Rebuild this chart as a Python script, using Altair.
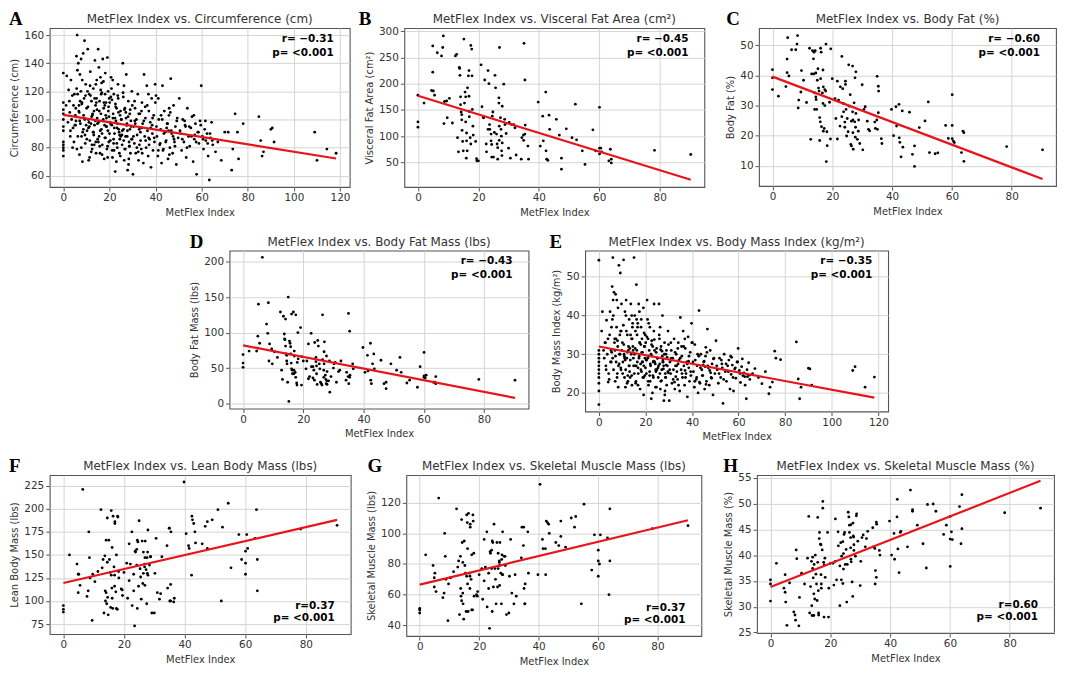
import altair as alt
import pandas as pd

# ---------------- data ----------------
# Panels A and E (full cohort): MetFlex index and outcomes
metflex_all = [
    0, 0, 0, 0, 0, 0, 0, 0, 0, 0, 0, 0,
    1.2, 1.5, 2.0, 2.3, 2.8, 3.0, 3.3, 3.6, 3.9, 4.2, 4.4, 4.6, 4.8, 5.0, 5.2, 5.4, 3.1, 2.6, 4.0, 5.5,
    5.7, 6.0, 6.2, 6.5, 6.7, 7.0, 7.2, 7.4, 7.6, 7.9, 8.1, 8.3, 8.6, 8.8, 9.0, 9.2, 9.5, 9.7, 9.9, 6.8, 7.7, 8.4, 9.3, 5.9,
    10.1, 10.3, 10.6, 10.8, 11.0, 11.2, 11.5, 11.7, 12.0, 12.2, 12.5, 12.7, 13.0, 13.2, 13.5, 13.7, 14.0, 14.2, 14.5, 14.7,
    14.9, 10.9, 11.8, 12.4, 13.3, 13.9, 14.4, 11.4, 12.9, 14.1,
    15.1, 15.3, 15.5, 15.7, 15.9, 16.1, 16.3, 16.5, 16.7, 16.9, 17.1, 17.3, 17.5, 17.7, 17.9, 18.1, 18.3, 18.5, 18.7, 18.9,
    19.1, 19.3, 19.5, 19.7, 19.9, 15.4, 16.2, 16.8, 17.4, 18.0, 18.6, 19.2, 19.8, 15.8,
    20.1, 20.4, 20.7, 21.0, 21.3, 21.6, 21.9, 22.2, 22.5, 22.8, 23.1, 23.4, 23.7, 24.0, 24.3, 24.6, 24.9, 20.5, 21.1, 21.8,
    22.4, 23.0, 23.6, 24.2, 24.8, 20.9, 22.0, 23.3, 24.5, 22.7,
    25.2, 25.5, 25.8, 26.1, 26.4, 26.7, 27.0, 27.3, 27.6, 27.9, 28.2, 28.5, 28.8, 29.1, 29.4, 29.7, 25.4, 26.0, 26.6, 27.2,
    27.8, 28.4, 29.0, 29.6, 26.3, 27.5, 28.7, 29.9,
    30.2, 30.5, 30.8, 31.1, 31.4, 31.7, 32.0, 32.3, 32.6, 32.9, 33.2, 33.5, 33.8, 34.1, 34.4, 34.7, 35.0, 35.3, 35.6, 35.9,
    36.2, 36.5, 36.8, 37.1, 37.4, 37.7, 38.0, 38.3, 38.6, 38.9, 39.2, 39.5, 39.8, 31.0, 32.5, 34.0, 35.5, 37.0, 38.5, 33.0,
    40.2, 40.6, 41.0, 41.4, 41.8, 42.2, 42.6, 43.0, 43.4, 43.8, 44.2, 44.6, 45.0, 45.4, 45.8, 46.2, 46.6, 47.0, 47.4, 47.8,
    48.2, 48.6, 49.0, 49.4, 49.8, 41.2, 43.2, 44.8, 46.4, 48.0, 42.0, 45.6,
    50.3, 50.8, 51.3, 51.8, 52.3, 52.8, 53.3, 53.8, 54.3, 54.8, 55.3, 55.8, 56.3, 56.8, 57.3, 57.8, 58.3, 58.8, 59.3, 59.8,
    60.3, 60.8, 61.3, 61.8, 62.3, 62.8, 63.3, 63.8, 64.3, 64.8, 53.0, 57.0,
    66.0, 67.0, 68.5, 70.0, 71.5, 73.0, 73.5, 74.5, 75.5, 76.0, 78.0, 84.8, 85.6, 86.2, 86.8, 90.0, 90.6, 91.4, 109.0, 110.0,
    114.3, 118.3,
    5.3, 5.8, 6.3, 6.9, 7.3, 7.8, 8.2, 8.7, 9.1, 9.6, 10.2, 10.7, 11.1, 11.6, 12.1, 12.6, 13.1, 13.6, 14.1, 14.6,
    6.1, 7.1, 8.0, 9.4, 10.5, 11.3, 12.3, 13.4, 14.3, 14.8,
    15.2, 15.6, 16.0, 16.4, 16.8, 17.2, 17.6, 18.0, 18.4, 18.8, 19.2, 19.6, 20.0, 20.3, 20.6, 21.2, 21.5, 21.8, 22.1, 22.6,
    23.2, 23.5, 23.9, 24.4, 24.7, 25.1, 25.6, 26.2, 26.5, 26.9, 27.4, 27.7, 28.1, 28.6, 28.9, 29.3, 29.8, 16.6, 18.2, 19.4,
    21.4, 23.8, 25.9, 27.1, 28.3,
    30.4, 31.2, 31.9, 32.7, 33.4, 34.2, 34.9, 35.7, 36.4, 37.2, 37.9, 38.7, 39.4, 40.4, 41.2, 42.4, 43.6, 44.4, 45.2, 46.0,
    46.8, 47.6, 48.4, 49.2, 30.9, 33.9, 36.9, 39.9, 42.9, 45.9,
    50.6, 51.6, 52.6, 53.6, 54.6, 55.6, 56.6, 57.6, 58.6, 59.6, 60.6, 61.6, 62.6, 63.6, 64.6,
]
circumference = [
    74, 78, 80, 82, 84, 92, 95, 100, 104, 107, 112, 133,
    110, 131, 98, 121, 105, 88, 128, 100, 117, 94, 110, 84, 118, 96, 103, 108, 92, 113, 80, 99,
    145, 160, 118, 140, 106, 75, 132, 97, 120, 88, 112, 70, 147, 103, 115, 156, 83, 125, 96, 110, 143, 91, 100, 79,
    108, 92, 150, 100, 71, 118, 85, 134, 97, 113, 79, 104, 122, 89, 96, 142, 110, 76, 128, 101,
    86, 94, 117, 82, 106, 99, 115, 73, 91, 125,
    150, 98, 88, 113, 76, 130, 104, 93, 119, 82, 143, 100, 108, 72, 96, 118, 87, 112, 101, 79,
    144, 92, 106, 84, 115, 137, 121, 90, 127, 110, 95, 73, 102, 81,
    112, 85, 130, 96, 73, 104, 118, 90, 63, 99, 108, 80, 125, 93, 76, 103, 88, 97, 114, 83,
    101, 70, 117, 91, 106, 122, 78, 94, 86, 109,
    100, 82, 140, 93, 71, 108, 88, 132, 97, 64, 113, 84, 104, 76, 95, 120, 89, 116, 79, 101,
    92, 72, 107, 86, 124, 96, 81, 110,
    61, 95, 83, 108, 76, 100, 89, 118, 71, 93, 104, 85, 79, 112, 97, 69, 132, 88, 101, 80,
    124, 92, 74, 106, 86, 98, 66, 115, 90, 78, 103, 84, 125, 99, 77, 94, 109, 87, 96, 82,
    117, 88, 74, 100, 82, 93, 69, 124, 79, 106, 91, 85, 97, 72, 103, 80, 129, 90, 76, 110,
    84, 95, 68, 101, 87, 115, 78, 94, 105, 86, 83, 92,
    115, 90, 78, 100, 84, 96, 73, 108, 88, 81, 94, 102, 70, 86, 97, 61, 91, 83, 99, 124,
    88, 79, 93, 85, 90, 74, 57, 87, 98, 82, 95, 89,
    77, 84, 71, 91, 91, 64, 79, 104, 91, 72, 97, 102, 85, 74, 77, 93, 94, 84, 91, 71,
    79, 76,
    96, 122, 88, 105, 113, 80, 128, 93, 101, 117, 86, 109, 98, 124, 77, 103, 91, 115, 84, 107,
    135, 99, 111, 89, 120, 95, 102, 82, 112, 97,
    84, 106, 92, 118, 75, 99, 112, 87, 103, 95, 81, 109, 90, 98, 116, 78, 101, 86, 94, 111,
    83, 97, 105, 89, 74, 100, 92, 85, 107, 79, 96, 88, 102, 81, 93, 99, 86, 126, 133, 120,
    128, 115, 119, 105, 68,
    88, 97, 80, 104, 91, 76, 99, 85, 110, 82, 94, 101, 87, 95, 78, 103, 90, 84, 97, 75,
    92, 88, 81, 99, 113, 106, 118, 112, 100, 108,
    92, 86, 99, 80, 95, 88, 103, 84, 91, 96, 86, 99, 83, 90, 85,
]
bmi = [
    17, 20.5, 22.5, 24, 25, 26, 27, 28, 29, 30, 31, 54.3,
    36, 41, 31, 29, 33, 27, 38.8, 30, 34, 25, 23.5, 35, 41, 28, 31, 37, 26, 33, 22.8, 30.5,
    47.5, 55, 40, 46, 33, 23, 45.5, 28, 37, 25, 32, 21.5, 53, 30, 35, 51, 26, 43, 31, 34, 44, 27, 36, 29,
    33, 28, 54.4, 30, 24, 41, 26, 44, 29, 35, 23, 32, 39, 25.5, 28.5, 43, 34, 22, 38, 31,
    27, 29.5, 36, 24.5, 31.5, 30, 37, 21.5, 27, 40,
    55, 30, 27, 36, 23, 48, 31, 28, 38, 25, 43, 29.5, 33, 21, 27.5, 37, 25.5, 34, 30.5, 24,
    42, 27, 32, 24.5, 35, 40, 39, 26.5, 41, 32.5, 28, 19.5, 29, 22.5,
    33, 25, 44, 29, 22, 31, 37, 27, 18.5, 29.5, 32, 24, 43, 28, 21.5, 30.5, 26, 28.5, 34, 24.5,
    30, 20, 36, 27.5, 31.5, 39, 23, 28, 25.5, 33.5,
    29, 24, 43, 27.5, 21, 32, 26, 40, 28, 18, 33, 25, 30, 22, 27, 36, 26.5, 34, 23, 29.5,
    27, 20.5, 31, 25.5, 37, 28.5, 24, 32.5,
    18, 28, 25, 31, 22.5, 29, 26, 34, 21, 27, 30, 25.5, 23.5, 33, 28.5, 20.5, 39.5, 26, 29.5, 24,
    36, 27, 22, 31.5, 25, 28, 19, 34.5, 26.5, 23, 30.5, 24.5, 38, 29, 22.8, 27.5, 32, 25.8, 28.2, 24.2,
    33, 25.5, 21.5, 28.5, 23.5, 27, 20, 41.3, 22.5, 30, 26, 24.5, 28, 21, 29.5, 23, 36.5, 26.5, 22, 31,
    24, 27.5, 19.5, 29, 25, 32.5, 22.8, 27.2, 30.5, 25.2, 24, 26.8,
    33.5, 26, 22.5, 29, 24, 27.5, 17.3, 30, 25.5, 23, 27, 28.5, 21, 24.8, 27.2, 20.5, 26.2, 23.8, 28, 31.5,
    25.8, 22.7, 26.8, 24.5, 25.2, 22, 18.5, 24.2, 27.8, 23.5, 26.5, 29.2,
    25, 26.3, 24, 22.4, 25.5, 19.8, 21.5, 22.8, 30.8, 29, 28.6, 33.2, 23.6, 18.5, 21.5, 26.4, 26.2, 22, 25.8, 26.8,
    21.5, 24.1,
    28, 39, 26, 31, 34, 24, 42, 27.5, 30, 36, 25, 32.5, 29, 40, 22.5, 31, 27, 35, 24.5, 32,
    44, 29.5, 33.5, 26.5, 37.5, 28.5, 30.5, 24, 34, 29,
    25, 31.5, 27, 35, 22, 29, 33, 26, 30.5, 28, 24, 32, 26.5, 28.5, 34.5, 23, 29.5, 25.5, 27.5, 32.5,
    24.5, 28.2, 31, 26, 21.5, 29, 27, 25, 31.2, 23.2, 28, 26.2, 30, 24, 27.2, 29.2, 25.2, 37, 39, 35.5,
    38, 33.8, 35, 30.8, 19.5,
    26, 28.5, 23.5, 30.5, 27, 22, 29, 25, 32, 24, 27.5, 29.5, 25.5, 28, 23, 30, 26.5, 24.5, 28.2, 22.2,
    27, 25.8, 23.8, 28.8, 33, 31.5, 34, 33, 29.5, 31.8,
    27, 25, 28.5, 23.5, 27.5, 25.5, 29.5, 24, 26.5, 28, 25, 28.8, 24.2, 26, 24.6,
]

# Panels B, C, D, F, G, H (body-composition subgroup)
metflex_sub = [
    0, 0, 0, 2.0, 4.5, 4.9, 4.9, 5.1, 5.5, 6.4,
    7.8, 8.2, 8.4, 8.6, 8.8, 9.5, 9.7, 10.4, 11.4, 12.4,
    12.8, 13.1, 13.4, 13.7, 13.8, 13.9, 14.1, 14.1, 14.3, 14.5,
    14.5, 14.6, 14.8, 15.0, 15.2, 15.4, 15.6, 15.8, 15.8, 16.0,
    16.1, 16.1, 16.3, 16.4, 16.7, 16.9, 16.9, 17.0, 17.0, 17.3,
    17.5, 17.5, 17.8, 17.9, 18.0, 18.2, 18.3, 19.1, 19.4, 19.5,
    20.0, 20.9, 21.2, 21.7, 21.7, 22.1, 22.6, 22.7, 23.2, 23.2,
    23.5, 23.7, 23.8, 24.2, 24.2, 24.4, 24.4, 24.6, 24.8, 25.0,
    25.3, 25.5, 25.7, 26.0, 26.2, 26.4, 26.4, 26.8, 26.8, 26.9,
    26.9, 27.0, 27.3, 27.5, 27.6, 27.7, 27.8, 27.9, 27.9, 28.4,
    28.7, 28.8, 29.2, 30.0, 30.2, 30.6, 31.0, 31.7, 32.1, 32.5,
    34.2, 34.4, 34.9, 35.0, 35.1, 35.4, 35.4, 35.5, 36.4, 36.6,
    39.8, 40.5, 41.3, 41.5, 42.3, 42.4, 42.6, 43.0, 43.4, 43.6,
    45.8, 46.8, 47.5, 47.5, 49.1, 51.0, 52.1, 52.5, 54.4, 55.3,
    57.9, 58.8, 60.1, 60.1, 60.1, 60.5, 60.8, 63.2, 63.7, 64.0,
    64.0, 78.3, 90.3,
]
visceral_fat = [
    178, 127, 117, 163, 187, 272, 222, 186, 178, 259,
    253, 269, 291, 124, 166, 167, 135, 172, 125,
    253, 256, 97, 70, 231, 229, 216, 175, 160, 146, 141, 131, 111, 90,
    72, 285, 163, 184, 175, 127, 58, 106, 91, 72, 192, 215, 225, 176, 147, 137, 97, 85, 273, 266, 215, 151, 119, 102,
    90, 57, 53, 53, 236, 156, 136, 135, 207,
    85, 70, 113, 225, 200, 122, 113, 104, 91, 84, 60, 138, 146, 60, 107, 216, 192,
    104, 85, 78, 56, 173, 163, 119, 92, 269, 135, 113, 100, 72, 63, 157, 87, 199, 132, 122, 105, 77,
    126, 58, 122, 122, 116, 64, 56, 97, 102, 92, 277, 207, 104, 121, 81, 56,
    165, 81, 138, 91, 184, 72, 56, 54, 140, 113, 132, 102, 58, 37, 114, 97, 161, 93, 72, 46,
    112, 72, 77, 66, 155, 77, 70, 53, 75, 49, 56, 73, 65,
]
body_fat_pct = [
    41.9, 39.2, 35.3, 33.1, 36.3, 45.4, 40.9, 52.5, 39.8, 48.5,
    48.5, 50.4, 53.2, 29.2, 31.8, 34.5, 41.6, 38.4, 31.0, 49.0,
    18.8, 40.5, 48.2, 45.5, 40.5, 47.7, 34.2, 28.7, 48.2, 40.8,
    32.9, 32.0, 28.7, 38.4, 42.2, 35.8, 34.8, 26.0, 18.4, 24.6,
    49.0, 38.9, 47.7, 23.0, 34.2, 30.7, 41.8, 36.2, 21.5, 22.4,
    30.0, 35.3, 34.8, 50.4, 11.4, 21.3, 16.7, 31.1, 18.9, 48.8,
    38.9, 32.3, 25.7, 38.1, 18.9, 31.8, 23.2, 36.2, 46.3, 26.3,
    35.6, 30.7, 27.9, 24.5, 22.8, 38.1, 37.0, 28.7, 19.9, 25.7,
    21.3, 43.5, 29.8, 33.6, 17.1, 24.8, 16.6, 43.1, 27.9, 25.2,
    21.0, 15.5, 30.9, 24.6, 39.2, 19.5, 22.8, 27.4, 41.2, 18.8,
    21.5, 25.2, 17.4, 36.9, 15.3, 28.7, 29.6, 24.8, 22.1, 21.6,
    24.5, 22.4, 25.2, 39.7, 22.1, 36.4, 27.6, 34.8, 19.0, 17.4,
    28.7, 20.0, 29.6, 23.2, 30.4, 19.3, 17.8, 13.0, 28.2, 16.2,
    27.8, 13.8, 16.6, 9.8, 22.7, 24.9, 31.2, 14.4, 14.0, 14.3,
    23.4, 19.1, 19.0, 23.4, 33.6, 18.2, 17.7, 14.4, 21.5, 21.0,
    11.5, 16.4, 15.3,
]
body_fat_mass = [
    69, 57, 51, 74, 74, 78, 95, 140, 85, 206,
    112, 99, 142, 60, 84, 77, 56, 73, 65,
    129, 47, 34, 123, 98, 91, 90, 119, 81, 70, 68, 60, 56, 30,
    150, 3, 88, 85, 80, 70, 57, 49, 126, 47, 42, 129, 42, 47, 74, 67, 44, 37, 125, 29, 26, 58, 100, 63,
    107, 26, 66, 60, 49, 60, 35, 84, 38,
    99, 52, 36, 52, 47, 33, 86, 59, 65, 53, 42, 27, 89, 81, 56, 49, 30,
    28, 26, 125, 62, 47, 37, 73, 56, 87, 40, 34, 28, 67, 32, 45, 27, 32, 60, 16, 38, 50,
    56, 58, 30, 45, 47, 60, 33, 44, 38, 127, 28, 102, 37, 40, 56, 49,
    79, 44, 68, 46, 85, 33, 28, 56, 70, 49, 61, 28, 21, 30, 56, 47, 65, 44, 29, 33,
    23, 52, 72, 39, 37, 36, 40, 30, 30, 38, 28, 34, 33,
]
lean_mass = [
    95, 88, 91, 150, 140, 109, 129, 129, 117, 221,
    105, 111, 175, 147, 125, 79, 129, 121, 132,
    199, 136, 145, 87, 149, 111, 100, 109, 166, 97, 190, 142, 104, 85,
    166, 145, 131, 93, 128, 198, 114, 158, 103, 92, 192, 137, 116, 128, 184, 186, 110, 150, 92, 91, 192, 191, 132, 125,
    113, 112, 106, 131, 141, 103, 162, 122, 140,
    175, 95, 129, 111, 73, 154, 153, 156, 139, 92, 166, 164, 116, 187, 135, 126, 102,
    165, 119, 153, 130, 140, 137, 117, 147, 165, 134, 97, 147, 130, 153, 177, 128, 139, 148, 148, 87, 87,
    130, 168, 109, 102, 108, 148, 160, 114, 179, 179, 100, 100, 118, 175, 99, 103,
    229, 173, 160, 157, 128, 192, 188, 184, 175, 163, 162, 181, 186, 157, 188, 199, 100, 180, 206, 136,
    172, 145, 141, 154, 129, 172, 157, 168, 199, 111, 145, 178, 182,
]
smm_lbs = [
    51, 48, 50, 86, 79, 71, 65, 74, 62, 123,
    58, 61, 100, 85, 70, 43, 67, 71, 75,
    116, 78, 82, 47, 85, 64, 59, 56, 109, 94, 81, 61, 54, 44,
    95, 79, 74, 49, 72, 112, 107, 90, 67, 49, 113, 74, 64, 72, 104, 106, 70, 86, 50, 50, 112, 108, 87, 59,
    60, 59, 62, 73, 77, 57, 96, 69, 78,
    101, 52, 74, 64, 38, 88, 87, 89, 77, 49, 95, 94, 65, 106, 77, 70, 54,
    94, 65, 87, 77, 81, 82, 66, 79, 94, 74, 54, 83, 86, 73, 101, 73, 85, 85, 79, 47, 48,
    72, 96, 61, 54, 73, 59, 84, 104, 92, 104, 64, 54, 54, 67, 101, 74,
    73, 132, 96, 90, 90, 73, 108, 107, 106, 100, 94, 92, 98, 108, 91, 110, 104, 111, 54, 119,
    76, 99, 82, 72, 89, 80, 99, 97, 60, 116, 82, 103, 105,
]
smm_pct = [
    35.2, 34.4, 31.1, 38.4, 33.6, 36.2, 32.8, 30.9, 26.4, 34.6,
    29, 28.4, 27.4, 41, 39.3, 26.3, 31.8, 36.5, 34.4,
    39.4, 47.5, 28.8, 33.9, 38.8, 30.2, 28.3, 39.6, 37.4, 35.6, 32.5, 28.3, 38.2, 31.5,
    40, 36.3, 34.4, 31.2, 47.3, 38.6, 33.1, 28.8, 28.4, 43.2, 44.4, 42.1, 42, 36.2, 34.4, 33.6, 41, 50.4, 49.1, 38.6,
    28, 38.1, 39.4, 35.7,
    44.4, 28, 33.6, 38.4, 38.4, 34.2, 47, 38.8, 35.2,
    44.5, 41.8, 37.9, 30.2, 42.4, 35.2, 39.8, 42.6, 34.5, 37.3, 40.3, 44, 44.4, 38.2, 41.1, 30.9, 38.2,
    48.3, 47.4, 45.8, 44.4, 43.4, 41.4, 39.2, 45.9, 38.7, 34.8, 32, 46.2, 43.7, 43.5, 42, 40.9, 39.8, 47.6, 48, 42.7, 34.1,
    38.8, 43.4, 43.9, 41.6, 43.2, 44.6, 45.3, 41.6, 41.3, 34.4, 37, 35.7, 46.4, 46, 40.9, 40,
    46.6, 40.0, 44.2, 39.2, 47.4, 50.8, 41.2, 36.6, 44.4, 44.6, 41.6, 52.6, 48.8, 48.5, 45.8, 42.2, 37.5, 49.8, 49.9, 48.5,
    44.0, 45.8, 37.8, 43.1, 47.5, 44.5, 43.0, 49.4, 42.2, 51.7, 45.1, 48.2, 49.1,
]

# fitted regression lines (end points)
fit_x_all = [0, 118.3]
fit_circ = [103.3, 72.3]
fit_bmi = [32.0, 18.8]
fit_x_sub = [0, 90.3]
fit_vfa = [177, 17]
fit_bfp = [39.6, 5.6]
fit_bfm = [82, 8]
fit_lbm = [119.5, 188]
fit_smm = [66.5, 108.5]
fit_smmp = [33.8, 54.4]

titles = [
    "MetFlex Index vs. Circumference (cm)",
    "MetFlex Index vs. Visceral Fat Area (cm²)",
    "MetFlex Index vs. Body Fat (%)",
    "MetFlex Index vs. Body Fat Mass (lbs)",
    "MetFlex Index vs. Body Mass Index (kg/m²)",
    "MetFlex Index vs. Lean Body Mass (lbs)",
    "MetFlex Index vs. Skeletal Muscle Mass (lbs)",
    "MetFlex Index vs. Skeletal Muscle Mass (%)",
]
stats_r = ["r= −0.31", "r= −0.45", "r= −0.60", "r= −0.43", "r= −0.35", "r=0.37", "r=0.37", "r=0.60"]
stats_p = ["p= <0.001"] * 8

# ---------------- chart ----------------
FONT = "DejaVu Sans"
TXT = "#333333"


def text_layer(s, xx, yy, **kw):
    return alt.Chart(pd.DataFrame({"t": [s]})).mark_text(**kw).encode(
        x=alt.value(xx), y=alt.value(yy), text="t:N")


def panel(x, y, fx, fy, title, ytitle, xdom, ydom, xticks, yticks, r, p, top,
          letter, ldx, w, h):
    df = pd.DataFrame({"x": x, "y": y})
    fit = pd.DataFrame({"x": fx, "y": fy})
    xenc = alt.X("x:Q", scale=alt.Scale(domain=xdom, nice=False, zero=False),
                 axis=alt.Axis(title="MetFlex Index", values=xticks, tickCount=len(xticks),
                               format="d", labelOverlap=False))
    yenc = alt.Y("y:Q", scale=alt.Scale(domain=ydom, nice=False, zero=False),
                 axis=alt.Axis(title=ytitle, values=yticks, tickCount=len(yticks),
                               format="d", labelOverlap=False))
    pts = alt.Chart(df).mark_circle(size=8, color="black", opacity=1).encode(x=xenc, y=yenc)
    line = alt.Chart(fit).mark_line(color="#e8141c", strokeWidth=2.2).encode(x="x:Q", y="y:Q")
    if top:
        y1, y2 = 11, 25
    else:
        y1, y2 = h - 28, h - 16
    stat_kw = dict(align="right", baseline="middle", font=FONT, fontWeight="bold",
                   fontSize=10.5, color="black")
    ttl = text_layer(title, w / 2, -5, align="center", baseline="alphabetic", font=FONT,
                     fontSize=12, color=TXT)
    lab = text_layer(letter, ldx, -3, align="left", baseline="alphabetic",
                     font="Liberation Serif", fontWeight="bold", fontSize=19, color="black")
    return alt.layer(pts, line, text_layer(r, w - 16, y1, **stat_kw),
                     text_layer(p, w - 16, y2, **stat_kw), ttl, lab).properties(width=w, height=h)


X_ALL = [-5.9, 124.2]
X_SUB = [-4.5, 94.8]
T_ALL = [0, 20, 40, 60, 80, 100, 120]
T_SUB = [0, 20, 40, 60, 80]

A = panel(metflex_all, circumference, fit_x_all, fit_circ, titles[0],
          "Circumference (cm)", X_ALL, [52, 165], T_ALL, [60, 80, 100, 120, 140, 160],
          stats_r[0], stats_p[0], True, "A", -41, 302, 160)
B = panel(metflex_sub, visceral_fat, fit_x_sub, fit_vfa, titles[1],
          "Visceral Fat Area (cm²)", X_SUB, [3, 306], T_SUB, [50, 100, 150, 200, 250, 300],
          stats_r[1], stats_p[1], True, "B", -46, 302, 160)
C = panel(metflex_sub, body_fat_pct, fit_x_sub, fit_bfp, titles[2],
          "Body Fat (%)", X_SUB, [3.3, 55.7], T_SUB, [10, 20, 30, 40, 50],
          stats_r[2], stats_p[2], True, "C", -33, 299, 159)
D = panel(metflex_sub, body_fat_mass, fit_x_sub, fit_bfm, titles[3],
          "Body Fat Mass (lbs)", X_SUB, [-7, 215.5], T_SUB, [0, 50, 100, 150, 200],
          stats_r[3], stats_p[3], True, "D", -40, 301, 159)
E = panel(metflex_all, bmi, fit_x_all, fit_bmi, titles[4],
          "Body Mass Index (kg/m²)", X_ALL, [15.2, 56.8], T_ALL, [20, 30, 40, 50],
          stats_r[4], stats_p[4], True, "E", -36, 305, 162)
F = panel(metflex_sub, lean_mass, fit_x_sub, fit_lbm, titles[5],
          "Lean Body Mass (lbs)", X_SUB, [64.2, 236.5], T_SUB, [75, 100, 125, 150, 175, 200, 225],
          stats_r[5], stats_p[5], False, "F", -41, 303, 160)
G = panel(metflex_sub, smm_lbs, fit_x_sub, fit_smm, titles[6],
          "Skeletal Muscle Mass (lbs)", X_SUB, [33, 138], T_SUB, [40, 60, 80, 100, 120],
          stats_r[6], stats_p[6], False, "G", -39, 297, 162)
H = panel(metflex_sub, smm_pct, fit_x_sub, fit_smmp, titles[7],
          "Skeletal Muscle Mass (%)", X_SUB, [24.9, 55.5], T_SUB, [25, 30, 35, 40, 45, 50, 55],
          stats_r[7], stats_p[7], False, "H", -34, 299, 159)

spacer = alt.Chart(pd.DataFrame({"v": [0]})).mark_point(opacity=0).encode(
    x=alt.X("v:Q", axis=None), y=alt.Y("v:Q", axis=None)
).properties(width=124, height=10, view=alt.ViewBackground(stroke="transparent"))

row1 = alt.hconcat(A, B, C, spacing=55, bounds="flush")
row2 = alt.hconcat(spacer, D, E, spacing=57, bounds="flush")
row3 = alt.hconcat(F, G, H, spacing=56, bounds="flush")

chart = alt.vconcat(row1, row2, row3, spacing=13).properties(
    padding={"top": -1, "left": 0, "right": 0, "bottom": 0}, background="white"
).configure_view(
    stroke="#555555", strokeWidth=1.1
).configure_axis(
    domain=False, grid=True, gridColor="#d4d4d4", gridWidth=1,
    tickColor="#555555", tickSize=4, tickWidth=1, labelOverlap=False,
    labelFont=FONT, labelFontSize=10.5, labelColor=TXT, labelPadding=2,
    titleFont=FONT, titleFontSize=10, titleFontWeight="normal", titleColor=TXT, titlePadding=4,
)

chart.save("out.html", embed_options={"renderer": "svg", "actions": False})
